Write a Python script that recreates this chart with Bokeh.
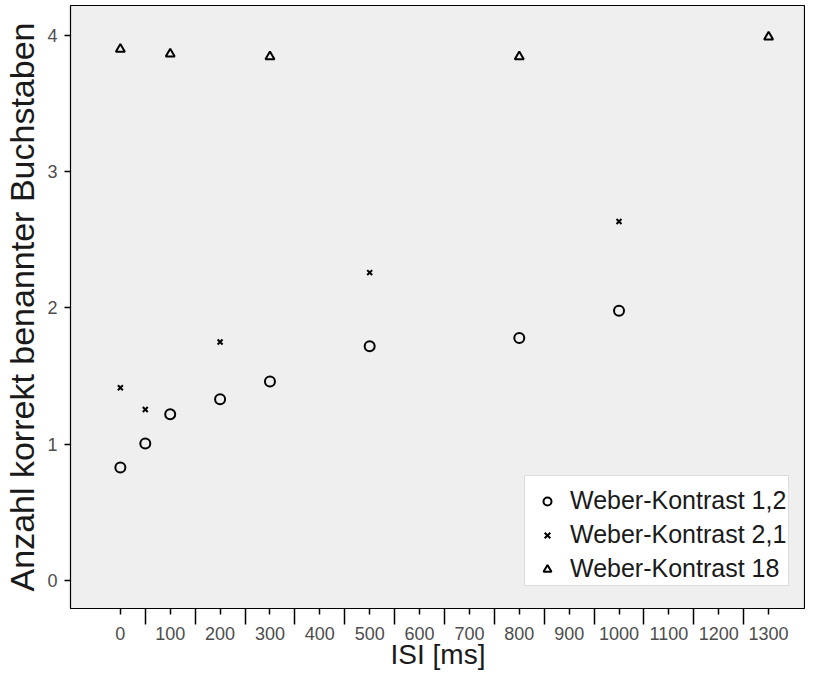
from bokeh.plotting import figure
from bokeh.models import FixedTicker, Range1d, Legend, LegendItem
from bokeh.embed import file_html
from bokeh.resources import INLINE

# Data
x_k12 = [0, 50, 100, 200, 300, 500, 800, 1000]
y_k12 = [0.83, 1.005, 1.22, 1.33, 1.46, 1.72, 1.78, 1.98]
x_k21 = [0, 50, 200, 500, 1000]
y_k21 = [1.415, 1.255, 1.75, 2.26, 2.635]
x_k18 = [0, 100, 300, 800, 1300]
y_k18 = [3.90, 3.865, 3.845, 3.845, 3.99]
labels = ["Weber-Kontrast 1,2", "Weber-Kontrast 2,1", "Weber-Kontrast 18"]
x_ticks = list(range(0, 1301, 100))
x_minor = list(range(50, 1300, 100))
y_ticks = [0, 1, 2, 3, 4]

FONT = "Liberation Sans"

p = figure(width=805, height=672, output_backend="svg", toolbar_location=None,
           x_range=Range1d(-100, 1374), y_range=Range1d(-0.2055, 4.22),
           min_border_left=70, min_border_right=0, min_border_top=5, min_border_bottom=64)
p.background_fill_color = "#EFEFEF"
p.border_fill_color = "white"
p.outline_line_color = "black"
p.outline_line_width = 1.2
p.xgrid.visible = False
p.ygrid.visible = False

r1 = p.scatter(x_k12, y_k12, marker="circle", size=10, fill_color=None, line_color="black", line_width=2)
r2 = p.scatter(x_k21, y_k21, marker="x", size=7, line_color="black", line_width=2)
r3 = p.scatter(x_k18, y_k18, marker="triangle", size=9, fill_color=None, line_color="black", line_width=2)

p.xaxis.ticker = FixedTicker(ticks=x_ticks, minor_ticks=x_minor)
p.yaxis.ticker = FixedTicker(ticks=y_ticks, minor_ticks=[])
for ax in (p.xaxis[0], p.yaxis[0]):
    ax.axis_line_color = None
    ax.major_tick_line_color = "black"
    ax.major_tick_line_width = 1.5
    ax.major_tick_in = 0
    ax.major_label_text_font = FONT
    ax.major_label_text_font_size = "18px"
    ax.major_label_text_color = "#4D4D4D"
    ax.axis_label_text_font = FONT
    ax.axis_label_text_font_style = "normal"
    ax.axis_label_text_color = "#1A1A1A"
p.xaxis.axis_label_text_font_size = "28px"
p.yaxis.axis_label_text_font_size = "34px"
p.xaxis.major_tick_out = 6
p.xaxis.minor_tick_out = 16
p.xaxis.minor_tick_in = 0
p.xaxis.minor_tick_line_color = "black"
p.xaxis.minor_tick_line_width = 1.5
p.xaxis.major_label_standoff = 2
p.xaxis.axis_label_standoff = -4
p.yaxis.major_tick_out = 6
p.yaxis.minor_tick_line_color = None
p.yaxis.major_label_standoff = 7
p.yaxis.axis_label_standoff = 3
p.xaxis.axis_label = "ISI [ms]"
p.yaxis.axis_label = "Anzahl korrekt benannter Buchstaben"

legend = Legend(items=[LegendItem(label=labels[0], renderers=[r1]),
                       LegendItem(label=labels[1], renderers=[r2]),
                       LegendItem(label=labels[2], renderers=[r3])],
                location=(454, 22))
legend.title = " "
legend.title_text_font_size = "6px"
legend.title_standoff = 2
legend.padding = 2
legend.spacing = 5
legend.label_text_font = FONT
legend.label_text_font_size = "25px"
legend.label_text_color = "#1A1A1A"
legend.border_line_color = "#BBBBBB"
legend.border_line_width = 1.5
legend.background_fill_color = "white"
legend.background_fill_alpha = 1
legend.glyph_width = 40
legend.label_standoff = 3
p.add_layout(legend)

open("out.html", "w").write(file_html(p, INLINE))
